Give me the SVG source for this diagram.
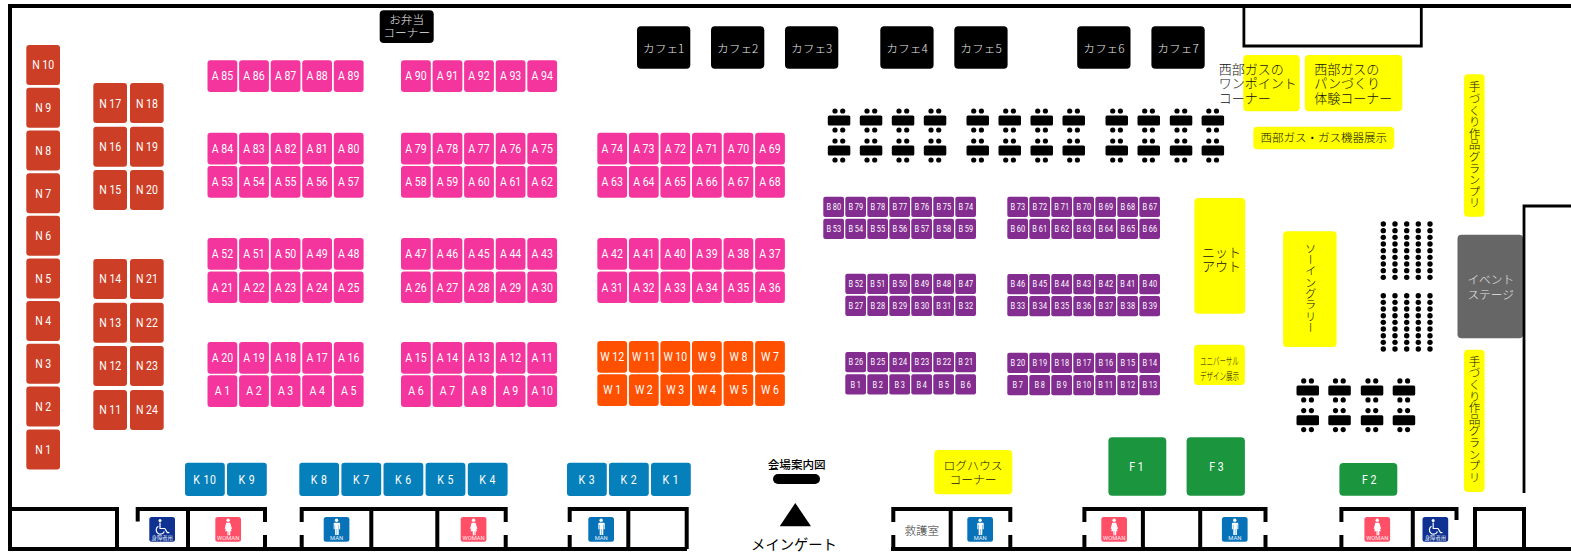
<svg xmlns="http://www.w3.org/2000/svg" width="1571" height="552" viewBox="0 0 1571 552">
<style>
rect{rx:3px}
.a{width:29.8px;height:31.7px;fill:#f4359e}
.w{width:29.8px;height:31.7px;fill:#ff5000}
.n{width:33.7px;height:40px;fill:#cc3e25}
.k{width:39.8px;height:33.3px;fill:#0680ba}
.b{width:20.7px;height:20.3px;rx:2px;fill:#832d90}
.c{width:53.3px;height:42.4px;rx:4px;fill:#000}
.y{fill:#ffff00;rx:4px}
.f{fill:#1b963f;rx:4px}
.tt{rx:1.5px}
.t{font:400 12.4px Roboto,"Liberation Sans",sans-serif;fill:#fff;text-anchor:middle;transform-box:fill-box;transform-origin:center;transform:scaleX(.85)}
.k+text{letter-spacing:.6px}
.s{font-size:9.2px;transform:scaleX(.8)}
.j{font:300 13px "Noto Sans CJK JP",sans-serif;fill:#111}
.m{text-anchor:middle}
.l{fill:#e6e6e6;font-size:11.7px}
.v{writing-mode:vertical-rl;text-anchor:middle;font-size:11.6px}
.wall{fill:none;stroke:#000;stroke-width:4}
.thin{stroke-width:2.8}
.ic{width:25.7px;height:24.7px;rx:2.5px}
.iw{fill:#ff5068}.im{fill:#0872b9}.id{fill:#0e3192}
.it{font:400 5.8px Roboto,"Liberation Sans",sans-serif;fill:#fff;text-anchor:middle;opacity:.9}
.ij{font:400 5.3px "Noto Sans CJK JP",sans-serif;fill:#fff;text-anchor:middle;opacity:.9}
</style>
<defs>
<g id="tbl"><rect class="tt" width="22.5" height="10"/><circle cx="7.2" cy="-4.6" r="2.6"/><circle cx="14.9" cy="-4.6" r="2.6"/><circle cx="7.2" cy="14.4" r="2.6"/><circle cx="14.9" cy="14.4" r="2.6"/></g>
<g id="col"><circle cy="0" r="2.7"/><circle cy="6.67" r="2.7"/><circle cy="13.33" r="2.7"/><circle cy="20" r="2.7"/><circle cy="26.67" r="2.7"/><circle cy="33.33" r="2.7"/><circle cy="40" r="2.7"/><circle cy="46.67" r="2.7"/><circle cy="53.33" r="2.7"/></g>
<g id="fm" fill="#fff"><circle cx="12.85" cy="3.3" r="1.7"/><path d="M10.2 5.7h5.3q.9 0 .9.9v5.7h-1v-4.5h-.4V18h-1.6v-6h-.4v6h-1.6V7.8h-.4v4.5h-1V6.6q0-.9.9-.9z"/></g>
<g id="fw" fill="#fff"><circle cx="12.85" cy="3.3" r="1.7"/><path d="M10.9 5.7h3.9l1.9 6-1 .3-1.1-3.3 1.7 5.5h-1.4v4h-1.2v-4h-.4v4h-1.2v-4H9.8l1.7-5.5-1.1 3.3-1-.3z"/></g>
<g id="fd" fill="none" stroke="#fff" stroke-width="1.2"><circle cx="10.7" cy="3.4" r="1.5" fill="#fff" stroke="none"/><path d="M10.7 5.5V11.5H15.5L18 15.6H20"/><path d="M9 9.3A4.2 4.2 0 1 0 15 14.5"/></g>
</defs>
<rect width="1571" height="552" fill="#fff" style="rx:0"/>
<g id="N10"><rect class="n" x="26.3" y="45"/><text class="t" x="43.2" y="69.3">N 10</text></g>
<g id="N9"><rect class="n" x="26.3" y="87.8"/><text class="t" x="43.2" y="112.1">N 9</text></g>
<g id="N8"><rect class="n" x="26.3" y="130.6"/><text class="t" x="43.2" y="154.9">N 8</text></g>
<g id="N7"><rect class="n" x="26.3" y="173.2"/><text class="t" x="43.2" y="198.5">N 7</text></g>
<g id="N6"><rect class="n" x="26.3" y="215.8"/><text class="t" x="43.2" y="240.1">N 6</text></g>
<g id="N5"><rect class="n" x="26.3" y="258.4"/><text class="t" x="43.2" y="282.7">N 5</text></g>
<g id="N4"><rect class="n" x="26.3" y="301"/><text class="t" x="43.2" y="325.3">N 4</text></g>
<g id="N3"><rect class="n" x="26.3" y="343.8"/><text class="t" x="43.2" y="368.1">N 3</text></g>
<g id="N2"><rect class="n" x="26.3" y="386.6"/><text class="t" x="43.2" y="410.9">N 2</text></g>
<g id="N1"><rect class="n" x="26.3" y="429.4"/><text class="t" x="43.2" y="453.7">N 1</text></g>
<g id="N17"><rect class="n" x="93.3" y="83"/><text class="t" x="110.2" y="108">N 17</text></g>
<g id="N16"><rect class="n" x="93.3" y="126.7"/><text class="t" x="110.2" y="151">N 16</text></g>
<g id="N15"><rect class="n" x="93.3" y="170"/><text class="t" x="110.2" y="194.3">N 15</text></g>
<g id="N14"><rect class="n" x="93.3" y="259"/><text class="t" x="110.2" y="283.3">N 14</text></g>
<g id="N13"><rect class="n" x="93.3" y="302.7"/><text class="t" x="110.2" y="327">N 13</text></g>
<g id="N12"><rect class="n" x="93.3" y="346"/><text class="t" x="110.2" y="370.3">N 12</text></g>
<g id="N11"><rect class="n" x="93.3" y="390"/><text class="t" x="110.2" y="414.3">N 11</text></g>
<g id="N18"><rect class="n" x="130" y="83"/><text class="t" x="146.9" y="108">N 18</text></g>
<g id="N19"><rect class="n" x="130" y="126.7"/><text class="t" x="146.9" y="151">N 19</text></g>
<g id="N20"><rect class="n" x="130" y="170"/><text class="t" x="146.9" y="194.3">N 20</text></g>
<g id="N21"><rect class="n" x="130" y="259"/><text class="t" x="146.9" y="283.3">N 21</text></g>
<g id="N22"><rect class="n" x="130" y="302.7"/><text class="t" x="146.9" y="327">N 22</text></g>
<g id="N23"><rect class="n" x="130" y="346"/><text class="t" x="146.9" y="370.3">N 23</text></g>
<g id="N24"><rect class="n" x="130" y="390"/><text class="t" x="146.9" y="414.3">N 24</text></g>
<g id="A85"><rect class="a" x="207.5" y="60.3"/><text class="t" x="222.4" y="80.5">A 85</text></g>
<g id="A86"><rect class="a" x="239.1" y="60.3"/><text class="t" x="254" y="80.5">A 86</text></g>
<g id="A87"><rect class="a" x="270.7" y="60.3"/><text class="t" x="285.6" y="80.5">A 87</text></g>
<g id="A88"><rect class="a" x="302.2" y="60.3"/><text class="t" x="317.1" y="80.5">A 88</text></g>
<g id="A89"><rect class="a" x="333.8" y="60.3"/><text class="t" x="348.7" y="80.5">A 89</text></g>
<g id="A90"><rect class="a" x="401" y="60.3"/><text class="t" x="415.9" y="80.5">A 90</text></g>
<g id="A91"><rect class="a" x="432.6" y="60.3"/><text class="t" x="447.5" y="80.5">A 91</text></g>
<g id="A92"><rect class="a" x="464.1" y="60.3"/><text class="t" x="479" y="80.5">A 92</text></g>
<g id="A93"><rect class="a" x="495.7" y="60.3"/><text class="t" x="510.6" y="80.5">A 93</text></g>
<g id="A94"><rect class="a" x="527.3" y="60.3"/><text class="t" x="542.2" y="80.5">A 94</text></g>
<g id="A84"><rect class="a" x="207.5" y="132.7"/><text class="t" x="222.4" y="152.9">A 84</text></g>
<g id="A83"><rect class="a" x="239.1" y="132.7"/><text class="t" x="254" y="152.9">A 83</text></g>
<g id="A82"><rect class="a" x="270.7" y="132.7"/><text class="t" x="285.6" y="152.9">A 82</text></g>
<g id="A81"><rect class="a" x="302.2" y="132.7"/><text class="t" x="317.1" y="152.9">A 81</text></g>
<g id="A80"><rect class="a" x="333.8" y="132.7"/><text class="t" x="348.7" y="152.9">A 80</text></g>
<g id="A79"><rect class="a" x="401" y="132.7"/><text class="t" x="415.9" y="152.9">A 79</text></g>
<g id="A78"><rect class="a" x="432.6" y="132.7"/><text class="t" x="447.5" y="152.9">A 78</text></g>
<g id="A77"><rect class="a" x="464.1" y="132.7"/><text class="t" x="479" y="152.9">A 77</text></g>
<g id="A76"><rect class="a" x="495.7" y="132.7"/><text class="t" x="510.6" y="152.9">A 76</text></g>
<g id="A75"><rect class="a" x="527.3" y="132.7"/><text class="t" x="542.2" y="152.9">A 75</text></g>
<g id="A74"><rect class="a" x="597.3" y="132.7"/><text class="t" x="612.2" y="152.9">A 74</text></g>
<g id="A73"><rect class="a" x="628.9" y="132.7"/><text class="t" x="643.8" y="152.9">A 73</text></g>
<g id="A72"><rect class="a" x="660.4" y="132.7"/><text class="t" x="675.3" y="152.9">A 72</text></g>
<g id="A71"><rect class="a" x="692" y="132.7"/><text class="t" x="706.9" y="152.9">A 71</text></g>
<g id="A70"><rect class="a" x="723.5" y="132.7"/><text class="t" x="738.4" y="152.9">A 70</text></g>
<g id="A69"><rect class="a" x="755.1" y="132.7"/><text class="t" x="770" y="152.9">A 69</text></g>
<g id="A53"><rect class="a" x="207.5" y="166"/><text class="t" x="222.4" y="186.2">A 53</text></g>
<g id="A54"><rect class="a" x="239.1" y="166"/><text class="t" x="254" y="186.2">A 54</text></g>
<g id="A55"><rect class="a" x="270.7" y="166"/><text class="t" x="285.6" y="186.2">A 55</text></g>
<g id="A56"><rect class="a" x="302.2" y="166"/><text class="t" x="317.1" y="186.2">A 56</text></g>
<g id="A57"><rect class="a" x="333.8" y="166"/><text class="t" x="348.7" y="186.2">A 57</text></g>
<g id="A58"><rect class="a" x="401" y="166"/><text class="t" x="415.9" y="186.2">A 58</text></g>
<g id="A59"><rect class="a" x="432.6" y="166"/><text class="t" x="447.5" y="186.2">A 59</text></g>
<g id="A60"><rect class="a" x="464.1" y="166"/><text class="t" x="479" y="186.2">A 60</text></g>
<g id="A61"><rect class="a" x="495.7" y="166"/><text class="t" x="510.6" y="186.2">A 61</text></g>
<g id="A62"><rect class="a" x="527.3" y="166"/><text class="t" x="542.2" y="186.2">A 62</text></g>
<g id="A63"><rect class="a" x="597.3" y="166"/><text class="t" x="612.2" y="186.2">A 63</text></g>
<g id="A64"><rect class="a" x="628.9" y="166"/><text class="t" x="643.8" y="186.2">A 64</text></g>
<g id="A65"><rect class="a" x="660.4" y="166"/><text class="t" x="675.3" y="186.2">A 65</text></g>
<g id="A66"><rect class="a" x="692" y="166"/><text class="t" x="706.9" y="186.2">A 66</text></g>
<g id="A67"><rect class="a" x="723.5" y="166"/><text class="t" x="738.4" y="186.2">A 67</text></g>
<g id="A68"><rect class="a" x="755.1" y="166"/><text class="t" x="770" y="186.2">A 68</text></g>
<g id="A52"><rect class="a" x="207.5" y="238"/><text class="t" x="222.4" y="258.2">A 52</text></g>
<g id="A51"><rect class="a" x="239.1" y="238"/><text class="t" x="254" y="258.2">A 51</text></g>
<g id="A50"><rect class="a" x="270.7" y="238"/><text class="t" x="285.6" y="258.2">A 50</text></g>
<g id="A49"><rect class="a" x="302.2" y="238"/><text class="t" x="317.1" y="258.2">A 49</text></g>
<g id="A48"><rect class="a" x="333.8" y="238"/><text class="t" x="348.7" y="258.2">A 48</text></g>
<g id="A47"><rect class="a" x="401" y="238"/><text class="t" x="415.9" y="258.2">A 47</text></g>
<g id="A46"><rect class="a" x="432.6" y="238"/><text class="t" x="447.5" y="258.2">A 46</text></g>
<g id="A45"><rect class="a" x="464.1" y="238"/><text class="t" x="479" y="258.2">A 45</text></g>
<g id="A44"><rect class="a" x="495.7" y="238"/><text class="t" x="510.6" y="258.2">A 44</text></g>
<g id="A43"><rect class="a" x="527.3" y="238"/><text class="t" x="542.2" y="258.2">A 43</text></g>
<g id="A42"><rect class="a" x="597.3" y="238"/><text class="t" x="612.2" y="258.2">A 42</text></g>
<g id="A41"><rect class="a" x="628.9" y="238"/><text class="t" x="643.8" y="258.2">A 41</text></g>
<g id="A40"><rect class="a" x="660.4" y="238"/><text class="t" x="675.3" y="258.2">A 40</text></g>
<g id="A39"><rect class="a" x="692" y="238"/><text class="t" x="706.9" y="258.2">A 39</text></g>
<g id="A38"><rect class="a" x="723.5" y="238"/><text class="t" x="738.4" y="258.2">A 38</text></g>
<g id="A37"><rect class="a" x="755.1" y="238"/><text class="t" x="770" y="258.2">A 37</text></g>
<g id="A21"><rect class="a" x="207.5" y="271.4"/><text class="t" x="222.4" y="291.6">A 21</text></g>
<g id="A22"><rect class="a" x="239.1" y="271.4"/><text class="t" x="254" y="291.6">A 22</text></g>
<g id="A23"><rect class="a" x="270.7" y="271.4"/><text class="t" x="285.6" y="291.6">A 23</text></g>
<g id="A24"><rect class="a" x="302.2" y="271.4"/><text class="t" x="317.1" y="291.6">A 24</text></g>
<g id="A25"><rect class="a" x="333.8" y="271.4"/><text class="t" x="348.7" y="291.6">A 25</text></g>
<g id="A26"><rect class="a" x="401" y="271.4"/><text class="t" x="415.9" y="291.6">A 26</text></g>
<g id="A27"><rect class="a" x="432.6" y="271.4"/><text class="t" x="447.5" y="291.6">A 27</text></g>
<g id="A28"><rect class="a" x="464.1" y="271.4"/><text class="t" x="479" y="291.6">A 28</text></g>
<g id="A29"><rect class="a" x="495.7" y="271.4"/><text class="t" x="510.6" y="291.6">A 29</text></g>
<g id="A30"><rect class="a" x="527.3" y="271.4"/><text class="t" x="542.2" y="291.6">A 30</text></g>
<g id="A31"><rect class="a" x="597.3" y="271.4"/><text class="t" x="612.2" y="291.6">A 31</text></g>
<g id="A32"><rect class="a" x="628.9" y="271.4"/><text class="t" x="643.8" y="291.6">A 32</text></g>
<g id="A33"><rect class="a" x="660.4" y="271.4"/><text class="t" x="675.3" y="291.6">A 33</text></g>
<g id="A34"><rect class="a" x="692" y="271.4"/><text class="t" x="706.9" y="291.6">A 34</text></g>
<g id="A35"><rect class="a" x="723.5" y="271.4"/><text class="t" x="738.4" y="291.6">A 35</text></g>
<g id="A36"><rect class="a" x="755.1" y="271.4"/><text class="t" x="770" y="291.6">A 36</text></g>
<g id="A20"><rect class="a" x="207.5" y="342"/><text class="t" x="222.4" y="362.2">A 20</text></g>
<g id="A19"><rect class="a" x="239.1" y="342"/><text class="t" x="254" y="362.2">A 19</text></g>
<g id="A18"><rect class="a" x="270.7" y="342"/><text class="t" x="285.6" y="362.2">A 18</text></g>
<g id="A17"><rect class="a" x="302.2" y="342"/><text class="t" x="317.1" y="362.2">A 17</text></g>
<g id="A16"><rect class="a" x="333.8" y="342"/><text class="t" x="348.7" y="362.2">A 16</text></g>
<g id="A15"><rect class="a" x="401" y="342"/><text class="t" x="415.9" y="362.2">A 15</text></g>
<g id="A14"><rect class="a" x="432.6" y="342"/><text class="t" x="447.5" y="362.2">A 14</text></g>
<g id="A13"><rect class="a" x="464.1" y="342"/><text class="t" x="479" y="362.2">A 13</text></g>
<g id="A12"><rect class="a" x="495.7" y="342"/><text class="t" x="510.6" y="362.2">A 12</text></g>
<g id="A11"><rect class="a" x="527.3" y="342"/><text class="t" x="542.2" y="362.2">A 11</text></g>
<g id="A1"><rect class="a" x="207.5" y="375.3"/><text class="t" x="222.4" y="395.5">A 1</text></g>
<g id="A2"><rect class="a" x="239.1" y="375.3"/><text class="t" x="254" y="395.5">A 2</text></g>
<g id="A3"><rect class="a" x="270.7" y="375.3"/><text class="t" x="285.6" y="395.5">A 3</text></g>
<g id="A4"><rect class="a" x="302.2" y="375.3"/><text class="t" x="317.1" y="395.5">A 4</text></g>
<g id="A5"><rect class="a" x="333.8" y="375.3"/><text class="t" x="348.7" y="395.5">A 5</text></g>
<g id="A6"><rect class="a" x="401" y="375.3"/><text class="t" x="415.9" y="395.5">A 6</text></g>
<g id="A7"><rect class="a" x="432.6" y="375.3"/><text class="t" x="447.5" y="395.5">A 7</text></g>
<g id="A8"><rect class="a" x="464.1" y="375.3"/><text class="t" x="479" y="395.5">A 8</text></g>
<g id="A9"><rect class="a" x="495.7" y="375.3"/><text class="t" x="510.6" y="395.5">A 9</text></g>
<g id="A10"><rect class="a" x="527.3" y="375.3"/><text class="t" x="542.2" y="395.5">A 10</text></g>
<g id="W12"><rect class="w" x="597.3" y="341"/><text class="t" x="612.2" y="361.2">W 12</text></g>
<g id="W11"><rect class="w" x="628.9" y="341"/><text class="t" x="643.8" y="361.2">W 11</text></g>
<g id="W10"><rect class="w" x="660.4" y="341"/><text class="t" x="675.3" y="361.2">W 10</text></g>
<g id="W9"><rect class="w" x="692" y="341"/><text class="t" x="706.9" y="361.2">W 9</text></g>
<g id="W8"><rect class="w" x="723.5" y="341"/><text class="t" x="738.4" y="361.2">W 8</text></g>
<g id="W7"><rect class="w" x="755.1" y="341"/><text class="t" x="770" y="361.2">W 7</text></g>
<g id="W1"><rect class="w" x="597.3" y="374.3"/><text class="t" x="612.2" y="394.5">W 1</text></g>
<g id="W2"><rect class="w" x="628.9" y="374.3"/><text class="t" x="643.8" y="394.5">W 2</text></g>
<g id="W3"><rect class="w" x="660.4" y="374.3"/><text class="t" x="675.3" y="394.5">W 3</text></g>
<g id="W4"><rect class="w" x="692" y="374.3"/><text class="t" x="706.9" y="394.5">W 4</text></g>
<g id="W5"><rect class="w" x="723.5" y="374.3"/><text class="t" x="738.4" y="394.5">W 5</text></g>
<g id="W6"><rect class="w" x="755.1" y="374.3"/><text class="t" x="770" y="394.5">W 6</text></g>
<g id="B80"><rect class="b" x="823.3" y="196.7"/><text class="t s" x="833.7" y="210.1">B 80</text></g>
<g id="B79"><rect class="b" x="845.3" y="196.7"/><text class="t s" x="855.7" y="210.1">B 79</text></g>
<g id="B78"><rect class="b" x="867.3" y="196.7"/><text class="t s" x="877.7" y="210.1">B 78</text></g>
<g id="B77"><rect class="b" x="889.3" y="196.7"/><text class="t s" x="899.7" y="210.1">B 77</text></g>
<g id="B76"><rect class="b" x="911.3" y="196.7"/><text class="t s" x="921.7" y="210.1">B 76</text></g>
<g id="B75"><rect class="b" x="933.3" y="196.7"/><text class="t s" x="943.7" y="210.1">B 75</text></g>
<g id="B74"><rect class="b" x="955.3" y="196.7"/><text class="t s" x="965.7" y="210.1">B 74</text></g>
<g id="B73"><rect class="b" x="1007.3" y="196.7"/><text class="t s" x="1017.7" y="210.1">B 73</text></g>
<g id="B72"><rect class="b" x="1029.3" y="196.7"/><text class="t s" x="1039.7" y="210.1">B 72</text></g>
<g id="B71"><rect class="b" x="1051.3" y="196.7"/><text class="t s" x="1061.7" y="210.1">B 71</text></g>
<g id="B70"><rect class="b" x="1073.3" y="196.7"/><text class="t s" x="1083.7" y="210.1">B 70</text></g>
<g id="B69"><rect class="b" x="1095.3" y="196.7"/><text class="t s" x="1105.7" y="210.1">B 69</text></g>
<g id="B68"><rect class="b" x="1117.3" y="196.7"/><text class="t s" x="1127.7" y="210.1">B 68</text></g>
<g id="B67"><rect class="b" x="1139.3" y="196.7"/><text class="t s" x="1149.7" y="210.1">B 67</text></g>
<g id="B53"><rect class="b" x="823.3" y="218.7"/><text class="t s" x="833.7" y="232.1">B 53</text></g>
<g id="B54"><rect class="b" x="845.3" y="218.7"/><text class="t s" x="855.7" y="232.1">B 54</text></g>
<g id="B55"><rect class="b" x="867.3" y="218.7"/><text class="t s" x="877.7" y="232.1">B 55</text></g>
<g id="B56"><rect class="b" x="889.3" y="218.7"/><text class="t s" x="899.7" y="232.1">B 56</text></g>
<g id="B57"><rect class="b" x="911.3" y="218.7"/><text class="t s" x="921.7" y="232.1">B 57</text></g>
<g id="B58"><rect class="b" x="933.3" y="218.7"/><text class="t s" x="943.7" y="232.1">B 58</text></g>
<g id="B59"><rect class="b" x="955.3" y="218.7"/><text class="t s" x="965.7" y="232.1">B 59</text></g>
<g id="B60"><rect class="b" x="1007.3" y="218.7"/><text class="t s" x="1017.7" y="232.1">B 60</text></g>
<g id="B61"><rect class="b" x="1029.3" y="218.7"/><text class="t s" x="1039.7" y="232.1">B 61</text></g>
<g id="B62"><rect class="b" x="1051.3" y="218.7"/><text class="t s" x="1061.7" y="232.1">B 62</text></g>
<g id="B63"><rect class="b" x="1073.3" y="218.7"/><text class="t s" x="1083.7" y="232.1">B 63</text></g>
<g id="B64"><rect class="b" x="1095.3" y="218.7"/><text class="t s" x="1105.7" y="232.1">B 64</text></g>
<g id="B65"><rect class="b" x="1117.3" y="218.7"/><text class="t s" x="1127.7" y="232.1">B 65</text></g>
<g id="B66"><rect class="b" x="1139.3" y="218.7"/><text class="t s" x="1149.7" y="232.1">B 66</text></g>
<g id="B52"><rect class="b" x="845.3" y="273.7"/><text class="t s" x="855.7" y="287.1">B 52</text></g>
<g id="B51"><rect class="b" x="867.3" y="273.7"/><text class="t s" x="877.7" y="287.1">B 51</text></g>
<g id="B50"><rect class="b" x="889.3" y="273.7"/><text class="t s" x="899.7" y="287.1">B 50</text></g>
<g id="B49"><rect class="b" x="911.3" y="273.7"/><text class="t s" x="921.7" y="287.1">B 49</text></g>
<g id="B48"><rect class="b" x="933.3" y="273.7"/><text class="t s" x="943.7" y="287.1">B 48</text></g>
<g id="B47"><rect class="b" x="955.3" y="273.7"/><text class="t s" x="965.7" y="287.1">B 47</text></g>
<g id="B46"><rect class="b" x="1007.3" y="274"/><text class="t s" x="1017.7" y="287.4">B 46</text></g>
<g id="B45"><rect class="b" x="1029.3" y="274"/><text class="t s" x="1039.7" y="287.4">B 45</text></g>
<g id="B44"><rect class="b" x="1051.3" y="274"/><text class="t s" x="1061.7" y="287.4">B 44</text></g>
<g id="B43"><rect class="b" x="1073.3" y="274"/><text class="t s" x="1083.7" y="287.4">B 43</text></g>
<g id="B42"><rect class="b" x="1095.3" y="274"/><text class="t s" x="1105.7" y="287.4">B 42</text></g>
<g id="B41"><rect class="b" x="1117.3" y="274"/><text class="t s" x="1127.7" y="287.4">B 41</text></g>
<g id="B40"><rect class="b" x="1139.3" y="274"/><text class="t s" x="1149.7" y="287.4">B 40</text></g>
<g id="B27"><rect class="b" x="845.3" y="295.7"/><text class="t s" x="855.7" y="309.1">B 27</text></g>
<g id="B28"><rect class="b" x="867.3" y="295.7"/><text class="t s" x="877.7" y="309.1">B 28</text></g>
<g id="B29"><rect class="b" x="889.3" y="295.7"/><text class="t s" x="899.7" y="309.1">B 29</text></g>
<g id="B30"><rect class="b" x="911.3" y="295.7"/><text class="t s" x="921.7" y="309.1">B 30</text></g>
<g id="B31"><rect class="b" x="933.3" y="295.7"/><text class="t s" x="943.7" y="309.1">B 31</text></g>
<g id="B32"><rect class="b" x="955.3" y="295.7"/><text class="t s" x="965.7" y="309.1">B 32</text></g>
<g id="B33"><rect class="b" x="1007.3" y="296"/><text class="t s" x="1017.7" y="309.4">B 33</text></g>
<g id="B34"><rect class="b" x="1029.3" y="296"/><text class="t s" x="1039.7" y="309.4">B 34</text></g>
<g id="B35"><rect class="b" x="1051.3" y="296"/><text class="t s" x="1061.7" y="309.4">B 35</text></g>
<g id="B36"><rect class="b" x="1073.3" y="296"/><text class="t s" x="1083.7" y="309.4">B 36</text></g>
<g id="B37"><rect class="b" x="1095.3" y="296"/><text class="t s" x="1105.7" y="309.4">B 37</text></g>
<g id="B38"><rect class="b" x="1117.3" y="296"/><text class="t s" x="1127.7" y="309.4">B 38</text></g>
<g id="B39"><rect class="b" x="1139.3" y="296"/><text class="t s" x="1149.7" y="309.4">B 39</text></g>
<g id="B26"><rect class="b" x="845.3" y="352"/><text class="t s" x="855.7" y="365.4">B 26</text></g>
<g id="B25"><rect class="b" x="867.3" y="352"/><text class="t s" x="877.7" y="365.4">B 25</text></g>
<g id="B24"><rect class="b" x="889.3" y="352"/><text class="t s" x="899.7" y="365.4">B 24</text></g>
<g id="B23"><rect class="b" x="911.3" y="352"/><text class="t s" x="921.7" y="365.4">B 23</text></g>
<g id="B22"><rect class="b" x="933.3" y="352"/><text class="t s" x="943.7" y="365.4">B 22</text></g>
<g id="B21"><rect class="b" x="955.3" y="352"/><text class="t s" x="965.7" y="365.4">B 21</text></g>
<g id="B20"><rect class="b" x="1007.3" y="352.7"/><text class="t s" x="1017.7" y="366.1">B 20</text></g>
<g id="B19"><rect class="b" x="1029.3" y="352.7"/><text class="t s" x="1039.7" y="366.1">B 19</text></g>
<g id="B18"><rect class="b" x="1051.3" y="352.7"/><text class="t s" x="1061.7" y="366.1">B 18</text></g>
<g id="B17"><rect class="b" x="1073.3" y="352.7"/><text class="t s" x="1083.7" y="366.1">B 17</text></g>
<g id="B16"><rect class="b" x="1095.3" y="352.7"/><text class="t s" x="1105.7" y="366.1">B 16</text></g>
<g id="B15"><rect class="b" x="1117.3" y="352.7"/><text class="t s" x="1127.7" y="366.1">B 15</text></g>
<g id="B14"><rect class="b" x="1139.3" y="352.7"/><text class="t s" x="1149.7" y="366.1">B 14</text></g>
<g id="B1"><rect class="b" x="845.3" y="374.3"/><text class="t s" x="855.7" y="387.7">B 1</text></g>
<g id="B2"><rect class="b" x="867.3" y="374.3"/><text class="t s" x="877.7" y="387.7">B 2</text></g>
<g id="B3"><rect class="b" x="889.3" y="374.3"/><text class="t s" x="899.7" y="387.7">B 3</text></g>
<g id="B4"><rect class="b" x="911.3" y="374.3"/><text class="t s" x="921.7" y="387.7">B 4</text></g>
<g id="B5"><rect class="b" x="933.3" y="374.3"/><text class="t s" x="943.7" y="387.7">B 5</text></g>
<g id="B6"><rect class="b" x="955.3" y="374.3"/><text class="t s" x="965.7" y="387.7">B 6</text></g>
<g id="B7"><rect class="b" x="1007.3" y="375"/><text class="t s" x="1017.7" y="388.4">B 7</text></g>
<g id="B8"><rect class="b" x="1029.3" y="375"/><text class="t s" x="1039.7" y="388.4">B 8</text></g>
<g id="B9"><rect class="b" x="1051.3" y="375"/><text class="t s" x="1061.7" y="388.4">B 9</text></g>
<g id="B10"><rect class="b" x="1073.3" y="375"/><text class="t s" x="1083.7" y="388.4">B 10</text></g>
<g id="B11"><rect class="b" x="1095.3" y="375"/><text class="t s" x="1105.7" y="388.4">B 11</text></g>
<g id="B12"><rect class="b" x="1117.3" y="375"/><text class="t s" x="1127.7" y="388.4">B 12</text></g>
<g id="B13"><rect class="b" x="1139.3" y="375"/><text class="t s" x="1149.7" y="388.4">B 13</text></g>
<g id="K10"><rect class="k" x="185" y="462.7"/><text class="t" x="204.9" y="483.7">K 10</text></g>
<g id="K9"><rect class="k" x="227" y="462.7"/><text class="t" x="246.9" y="483.7">K 9</text></g>
<g id="K8"><rect class="k" x="299.3" y="462.7"/><text class="t" x="319.2" y="483.7">K 8</text></g>
<g id="K7"><rect class="k" x="341.4" y="462.7"/><text class="t" x="361.3" y="483.7">K 7</text></g>
<g id="K6"><rect class="k" x="383.5" y="462.7"/><text class="t" x="403.4" y="483.7">K 6</text></g>
<g id="K5"><rect class="k" x="425.6" y="462.7"/><text class="t" x="445.5" y="483.7">K 5</text></g>
<g id="K4"><rect class="k" x="467.8" y="462.7"/><text class="t" x="487.7" y="483.7">K 4</text></g>
<g id="K3"><rect class="k" x="567" y="462.7"/><text class="t" x="586.9" y="483.7">K 3</text></g>
<g id="K2"><rect class="k" x="609" y="462.7"/><text class="t" x="628.9" y="483.7">K 2</text></g>
<g id="K1"><rect class="k" x="651" y="462.7"/><text class="t" x="670.9" y="483.7">K 1</text></g>
<g id="bento"><rect class="c" x="379.7" y="10.3" style="width:54px;height:32.7px"/><text class="j m l" x="406.7" y="24">お弁当</text><text class="j m l" x="406.7" y="37.3">コーナー</text></g>
<g id="cafe1"><rect class="c" x="637" y="26.3"/><text class="j m l" x="663.7" y="52.5">カフェ1</text></g>
<g id="cafe2"><rect class="c" x="711" y="26.3"/><text class="j m l" x="737.7" y="52.5">カフェ2</text></g>
<g id="cafe3"><rect class="c" x="785" y="26.3"/><text class="j m l" x="811.7" y="52.5">カフェ3</text></g>
<g id="cafe4"><rect class="c" x="880.3" y="26.3"/><text class="j m l" x="907" y="52.5">カフェ4</text></g>
<g id="cafe5"><rect class="c" x="954.3" y="26.3"/><text class="j m l" x="981" y="52.5">カフェ5</text></g>
<g id="cafe6"><rect class="c" x="1077.2" y="26.3"/><text class="j m l" x="1103.9" y="52.5">カフェ6</text></g>
<g id="cafe7"><rect class="c" x="1151.4" y="26.3"/><text class="j m l" x="1178" y="52.5">カフェ7</text></g>
<g id="tables">
<use href="#tbl" x="827.8" y="115.6"/><use href="#tbl" x="859.8" y="115.6"/><use href="#tbl" x="891.8" y="115.6"/><use href="#tbl" x="923.8" y="115.6"/><use href="#tbl" x="966.5" y="115.6"/><use href="#tbl" x="998.5" y="115.6"/><use href="#tbl" x="1030.5" y="115.6"/><use href="#tbl" x="1062.5" y="115.6"/><use href="#tbl" x="1105.5" y="115.6"/><use href="#tbl" x="1137.5" y="115.6"/><use href="#tbl" x="1169.8" y="115.6"/><use href="#tbl" x="1201.6" y="115.6"/>
<use href="#tbl" x="827.8" y="145.6"/><use href="#tbl" x="859.8" y="145.6"/><use href="#tbl" x="891.8" y="145.6"/><use href="#tbl" x="923.8" y="145.6"/><use href="#tbl" x="966.5" y="145.6"/><use href="#tbl" x="998.5" y="145.6"/><use href="#tbl" x="1030.5" y="145.6"/><use href="#tbl" x="1062.5" y="145.6"/><use href="#tbl" x="1105.5" y="145.6"/><use href="#tbl" x="1137.5" y="145.6"/><use href="#tbl" x="1169.8" y="145.6"/><use href="#tbl" x="1201.6" y="145.6"/>
<use href="#tbl" x="1296.5" y="385.5"/><use href="#tbl" x="1328.3" y="385.5"/><use href="#tbl" x="1360.8" y="385.5"/><use href="#tbl" x="1392.7" y="385.5"/>
<use href="#tbl" x="1296.5" y="415.2"/><use href="#tbl" x="1328.3" y="415.2"/><use href="#tbl" x="1360.8" y="415.2"/><use href="#tbl" x="1392.7" y="415.2"/>
</g>
<g id="seats">
<use href="#col" x="1383.3" y="224"/><use href="#col" x="1395" y="224"/><use href="#col" x="1406.7" y="224"/><use href="#col" x="1418.3" y="224"/><use href="#col" x="1430" y="224"/>
<use href="#col" x="1383.3" y="295.7"/><use href="#col" x="1395" y="295.7"/><use href="#col" x="1406.7" y="295.7"/><use href="#col" x="1418.3" y="295.7"/><use href="#col" x="1430" y="295.7"/>
</g>
<g id="gas-point"><rect class="y" x="1243.2" y="55" width="56.5" height="56.3"/><text class="j" x="1218.8" y="74">西部ガスの</text><text class="j" x="1218.8" y="88.3">ワンポイント</text><text class="j" x="1218.8" y="102.6">コーナー</text></g>
<g id="bread"><rect class="y" x="1304.8" y="55" width="97.5" height="56.3"/><text class="j" x="1314.3" y="74">西部ガスの</text><text class="j" x="1314.3" y="88.3">パンづくり</text><text class="j" x="1314.3" y="102.6">体験コーナー</text></g>
<g id="gas-show"><rect class="y" x="1253.3" y="126.7" width="140.9" height="22.6"/><text class="j m" style="font-size:11.5px" x="1323.8" y="142">西部ガス・ガス機器展示</text></g>
<g id="grandprix-top"><rect class="y" x="1464" y="74.3" width="20.6" height="142.4"/><text class="j v" x="1474.5" y="145">手づくり作品グランプリ</text></g>
<g id="knit"><rect class="y" x="1194.4" y="198" width="50.8" height="115.7"/><text class="j" x="1202" y="257">ニット</text><text class="j" x="1202" y="271.3">アウト</text></g>
<g id="sewing"><rect class="y" x="1283.1" y="231.3" width="53.5" height="115.7"/><text class="j v" style="font-size:11.3px" x="1310.6" y="288">ソーイングラリー</text></g>
<g id="universal"><rect class="y" x="1194.1" y="344.7" width="50.8" height="40.3"/><text class="j m" style="font-size:10.5px" x="1219.4" y="365" textLength="39" lengthAdjust="spacingAndGlyphs">ユニバーサル</text><text class="j m" style="font-size:10.5px" x="1219.4" y="379.5" textLength="39" lengthAdjust="spacingAndGlyphs">デザイン展示</text></g>
<g id="grandprix-bottom"><rect class="y" x="1464" y="349.7" width="20.6" height="142.3"/><text class="j v" x="1474.5" y="419.5">手づくり作品グランプリ</text></g>
<g id="stage"><rect x="1457.5" y="234.7" width="65.7" height="103.6" style="fill:#666;rx:4px"/><text class="j l" x="1467.4" y="284.3">イベント</text><text class="j l" x="1467.4" y="298.7">ステージ</text></g>
<g id="loghouse"><rect class="y" x="934.3" y="450" width="78" height="44.3"/><text class="j m" style="font-size:11.8px" x="973" y="470.3">ログハウス</text><text class="j m" style="font-size:11.8px" x="973" y="483.7">コーナー</text></g>
<g id="F1"><rect class="f" x="1108.4" y="437.3" width="57.9" height="58.4"/><text class="t" x="1136.5" y="471">F 1</text></g>
<g id="F3"><rect class="f" x="1186.6" y="437.3" width="58.3" height="58.4"/><text class="t" x="1216.4" y="471">F 3</text></g>
<g id="F2"><rect class="f" x="1339.4" y="463" width="57.9" height="32.7"/><text class="t" x="1369.2" y="484">F 2</text></g>
<g id="info"><text class="j m" style="font-size:11.6px;font-weight:500;fill:#000" x="796.7" y="469.3">会場案内図</text><rect x="773" y="474" width="47" height="10" style="rx:5px"/></g>
<g id="gate"><path d="M795.3 503L811 526.3H779.7z"/><text class="j m" style="font-size:14.3px;font-weight:400;fill:#000" x="794" y="549.7">メインゲート</text></g>
<g id="first-aid"><text class="j m" style="font-size:11.5px;fill:#333" x="921.7" y="535">救護室</text></g>
<g id="wc">
<g id="wc-d1"><rect class="ic id" x="149.3" y="517"/><use href="#fd" x="149.3" y="517"/><text class="ij" x="162.2" y="539.8">身障者用</text></g>
<g id="wc-w1"><rect class="ic iw" x="215.3" y="517"/><use href="#fw" x="215.3" y="517"/><text class="it" x="228.2" y="539.8">WOMAN</text></g>
<g id="wc-m1"><rect class="ic im" x="323.7" y="517"/><use href="#fm" x="323.7" y="517"/><text class="it" x="336.6" y="539.8">MAN</text></g>
<g id="wc-w2"><rect class="ic iw" x="460.7" y="517"/><use href="#fw" x="460.7" y="517"/><text class="it" x="473.6" y="539.8">WOMAN</text></g>
<g id="wc-m2"><rect class="ic im" x="588.3" y="517"/><use href="#fm" x="588.3" y="517"/><text class="it" x="601.2" y="539.8">MAN</text></g>
<g id="wc-m3"><rect class="ic im" x="967.3" y="517"/><use href="#fm" x="967.3" y="517"/><text class="it" x="980.2" y="539.8">MAN</text></g>
<g id="wc-w3"><rect class="ic iw" x="1101.3" y="517"/><use href="#fw" x="1101.3" y="517"/><text class="it" x="1114.2" y="539.8">WOMAN</text></g>
<g id="wc-m4"><rect class="ic im" x="1221.9" y="517"/><use href="#fm" x="1221.9" y="517"/><text class="it" x="1234.8" y="539.8">MAN</text></g>
<g id="wc-w4"><rect class="ic iw" x="1364.4" y="517"/><use href="#fw" x="1364.4" y="517"/><text class="it" x="1377.3" y="539.8">WOMAN</text></g>
<g id="wc-d2"><rect class="ic id" x="1422.5" y="517"/><use href="#fd" x="1422.5" y="517"/><text class="ij" x="1435.4" y="539.8">身障者用</text></g>
</g>
<g id="walls">
<path class="wall" d="M10 551V6H1571M8 549H687M891 549H1571M10 509H117V549"/>
<path class="wall" d="M137.7 521.5V509H265V522M265 535V549M188 509V549"/>
<path class="wall" d="M301.7 522V509H505.7V522M301.7 535V549M505.7 535V549M371.3 509V549M437.3 509V549"/>
<path class="wall" d="M569.7 522V509H686.7V549M569.7 535V549M628.3 509V549"/>
<path class="wall" d="M893.3 522V509H1010.3V522M893.3 535V549M1010.3 535V549M950.7 509V549"/>
<path class="wall" d="M1084.4 522V509H1265.5V522M1084.4 535V549M1265.5 535V549M1142.9 509V549M1200.2 509V549"/>
<path class="wall" d="M1341.4 522V509H1456.5V520M1341.4 535V549M1412.8 509V549"/>
<path class="wall" d="M1475 549V509H1524V549"/>
<path class="wall thin" d="M1571 206H1524V493M1243.9 8V46H1421.3V8"/>
</g>
</svg>
